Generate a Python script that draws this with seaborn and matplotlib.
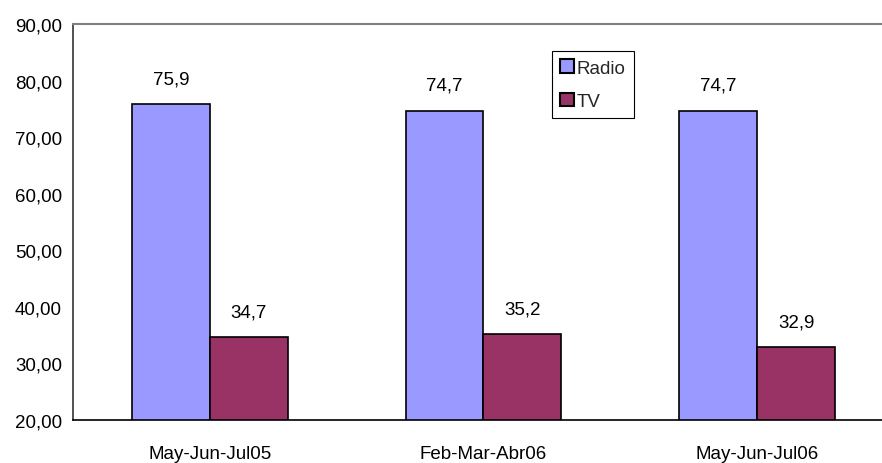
import matplotlib
matplotlib.use("Agg")
import matplotlib.pyplot as plt
from matplotlib.patches import Patch
from matplotlib.ticker import FuncFormatter, FixedLocator
import pandas as pd
import seaborn as sns

periodos = ["May-Jun-Jul05", "Feb-Mar-Abr06", "May-Jun-Jul06"]
radio = [75.9, 74.7, 74.7]
tv = [34.7, 35.2, 32.9]
medios = ["Radio", "TV"]
colores = ["#9999FF", "#993366"]

df = pd.DataFrame({
    "periodo": periodos * 2,
    "medio": ["Radio"] * 3 + ["TV"] * 3,
    "valor": radio + tv,
})

FS = 13.5

sns.set_theme(style="white")
plt.rcParams["font.family"] = ["Liberation Sans", "DejaVu Sans"]
plt.rcParams["font.size"] = FS

fig = plt.figure(figsize=(8.82, 4.64), dpi=100)
ax = fig.add_axes([73 / 882, 43 / 464, 821 / 882, 396 / 464])

sns.barplot(data=df, x="periodo", y="valor", hue="medio", palette=colores,
            width=0.57, edgecolor="black", linewidth=1.2, saturation=1,
            legend=False, ax=ax)

for cont in ax.containers:
    labels = [f"{v:.1f}".replace(".", ",") for v in cont.datavalues]
    ax.bar_label(cont, labels=labels, padding=12, fontsize=FS, color="black")

ax.set_ylim(20, 90)
ax.set_xlim(-0.5, 2.5)
ax.set_yticks(range(20, 91, 10))
ax.yaxis.set_major_formatter(FuncFormatter(lambda v, p: f"{v:.2f}".replace(".", ",")))
ax.xaxis.set_minor_locator(FixedLocator([-0.5, 0.5, 1.5]))
ax.tick_params(axis="x", which="major", length=0, pad=18, labelsize=FS, colors="black")
ax.tick_params(axis="x", which="minor", length=6, width=1, color="black", direction="out")
ax.tick_params(axis="y", length=5, width=1, color="black", direction="out", pad=3,
               labelsize=FS, labelcolor="black")
ax.set_xlabel("")
ax.set_ylabel("")

ax.spines["left"].set_color("#333333")
ax.spines["left"].set_linewidth(1.2)
ax.spines["bottom"].set_color("black")
ax.spines["bottom"].set_linewidth(1.2)
ax.spines["top"].set_color("#808080")
ax.spines["top"].set_linewidth(1.5)
ax.spines["right"].set_visible(False)

handles = [Patch(facecolor=c, edgecolor="black", linewidth=1.5, label=m)
           for m, c in zip(medios, colores)]
leg = fig.legend(handles=handles, loc="upper left", bbox_to_anchor=(552 / 882, 1 - 52 / 464),
                 frameon=True, fancybox=False, edgecolor="black", framealpha=1,
                 handlelength=0.7, handleheight=0.7, handletextpad=0.15,
                 labelspacing=0.85, borderpad=0.45, borderaxespad=0, fontsize=FS)
leg.get_frame().set_linewidth(0.8)

fig.savefig("out.png", dpi=100)
